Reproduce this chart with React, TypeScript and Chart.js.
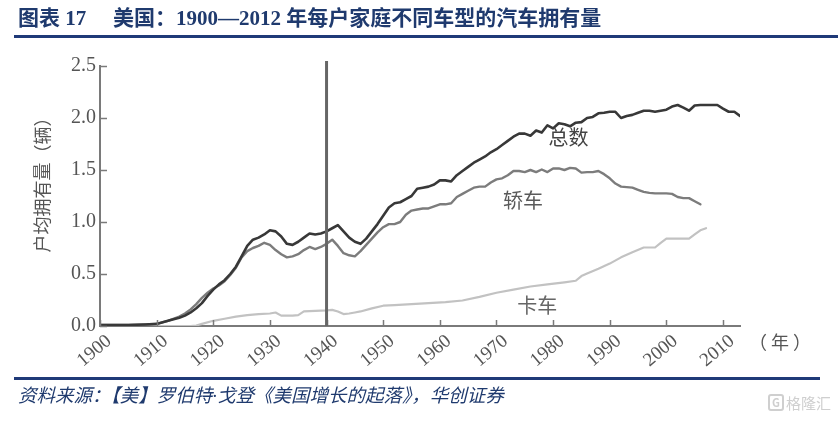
import React, { useEffect, useRef } from "react";
import { Chart, registerables } from "chart.js";

Chart.register(...registerables);

// ---- data ----
const totalYears = [1900, 1905, 1908, 1910, 1912, 1914, 1915, 1916, 1917, 1918, 1919, 1920, 1921, 1922, 1923, 1924, 1925, 1926, 1927, 1928, 1929, 1930, 1931, 1932, 1933, 1934, 1935, 1936, 1937, 1938, 1939, 1940, 1941, 1942, 1943, 1944, 1945, 1946, 1947, 1948, 1949, 1950, 1951, 1952, 1953, 1954, 1955, 1956, 1957, 1958, 1959, 1960, 1961, 1962, 1963, 1964, 1965, 1966, 1967, 1968, 1969, 1970, 1971, 1972, 1973, 1974, 1975, 1976, 1977, 1978, 1979, 1980, 1981, 1982, 1983, 1984, 1985, 1986, 1987, 1988, 1989, 1990, 1991, 1992, 1993, 1994, 1995, 1996, 1997, 1998, 1999, 2000, 2001, 2002, 2003, 2004, 2005, 2006, 2007, 2008, 2009, 2010, 2011, 2012, 2013];
const totalValues = [0.01, 0.01, 0.015, 0.02, 0.05, 0.08, 0.1, 0.13, 0.17, 0.22, 0.29, 0.35, 0.4, 0.44, 0.5, 0.57, 0.67, 0.77, 0.83, 0.85, 0.88, 0.92, 0.91, 0.86, 0.79, 0.78, 0.81, 0.85, 0.89, 0.88, 0.89, 0.91, 0.94, 0.97, 0.91, 0.85, 0.81, 0.79, 0.84, 0.91, 0.98, 1.06, 1.14, 1.18, 1.19, 1.22, 1.25, 1.32, 1.33, 1.34, 1.36, 1.4, 1.4, 1.39, 1.45, 1.49, 1.53, 1.57, 1.6, 1.63, 1.67, 1.7, 1.74, 1.78, 1.82, 1.85, 1.85, 1.83, 1.88, 1.86, 1.93, 1.9, 1.95, 1.94, 1.92, 1.955, 1.96, 2.0, 2.01, 2.045, 2.05, 2.06, 2.06, 2.0, 2.02, 2.03, 2.05, 2.07, 2.07, 2.06, 2.07, 2.08, 2.11, 2.125, 2.1, 2.07, 2.12, 2.125, 2.125, 2.125, 2.125, 2.09, 2.06, 2.06, 2.02];

const sedanYears = [1900, 1905, 1908, 1910, 1912, 1914, 1915, 1916, 1917, 1918, 1919, 1920, 1921, 1922, 1923, 1924, 1925, 1926, 1927, 1928, 1929, 1930, 1931, 1932, 1933, 1934, 1935, 1936, 1937, 1938, 1939, 1940, 1941, 1942, 1943, 1944, 1945, 1946, 1947, 1948, 1949, 1950, 1951, 1952, 1953, 1954, 1955, 1956, 1957, 1958, 1959, 1960, 1961, 1962, 1963, 1964, 1965, 1966, 1967, 1968, 1969, 1970, 1971, 1972, 1973, 1974, 1975, 1976, 1977, 1978, 1979, 1980, 1981, 1982, 1983, 1984, 1985, 1986, 1987, 1988, 1989, 1990, 1991, 1992, 1993, 1994, 1995, 1996, 1997, 1998, 1999, 2000, 2001, 2002, 2003, 2004, 2005, 2006];
const sedanValues = [0.01, 0.01, 0.015, 0.02, 0.05, 0.09, 0.12, 0.16, 0.21, 0.27, 0.32, 0.36, 0.39, 0.43, 0.49, 0.56, 0.66, 0.72, 0.75, 0.77, 0.8, 0.78, 0.73, 0.69, 0.66, 0.67, 0.69, 0.73, 0.76, 0.74, 0.76, 0.79, 0.83, 0.77, 0.7, 0.68, 0.67, 0.72, 0.78, 0.84, 0.9, 0.95, 0.98, 0.98, 1.0, 1.07, 1.11, 1.12, 1.13, 1.13, 1.15, 1.17, 1.17, 1.18, 1.24, 1.27, 1.3, 1.33, 1.34, 1.34, 1.38, 1.41, 1.42, 1.45, 1.49, 1.49, 1.48, 1.5, 1.48, 1.505, 1.48, 1.515, 1.515, 1.5, 1.52, 1.515, 1.475, 1.48, 1.48, 1.49, 1.46, 1.42, 1.37, 1.34, 1.335, 1.33, 1.31, 1.29, 1.28, 1.275, 1.275, 1.275, 1.27, 1.24, 1.23, 1.23, 1.2, 1.17];

const truckYears = [1900, 1916, 1917, 1918, 1920, 1922, 1924, 1926, 1928, 1930, 1931, 1932, 1934, 1935, 1936, 1938, 1940, 1941, 1942, 1943, 1944, 1945, 1946, 1948, 1950, 1952, 1955, 1958, 1961, 1964, 1967, 1970, 1973, 1976, 1979, 1982, 1984, 1985, 1986, 1988, 1990, 1992, 1994, 1996, 1998, 1999, 2000, 2002, 2004, 2005, 2006, 2007];
const truckValues = [0, 0, 0.005, 0.02, 0.05, 0.07, 0.09, 0.105, 0.115, 0.12, 0.13, 0.1, 0.1, 0.105, 0.14, 0.145, 0.15, 0.155, 0.14, 0.115, 0.12, 0.13, 0.14, 0.17, 0.195, 0.2, 0.21, 0.22, 0.23, 0.245, 0.28, 0.32, 0.35, 0.38, 0.4, 0.42, 0.435, 0.48, 0.505, 0.55, 0.6, 0.66, 0.71, 0.755, 0.755, 0.8, 0.84, 0.84, 0.84, 0.88, 0.92, 0.94];

const seriesNames = ["总数", "轿车", "卡车"];
const seriesLabelYears = [1982.7, 1974.7, 1977.2];
const seriesLabelValues = [1.81, 1.21, 0.2];

const xTickYears = [1900, 1910, 1920, 1930, 1940, 1950, 1960, 1970, 1980, 1990, 2000, 2010];
const yTickValues = [0, 0.5, 1.0, 1.5, 2.0, 2.5];
const markerYear = 1940;

const titleLead = "图表 17";
const titleMain = "美国：1900—2012 年每户家庭不同车型的汽车拥有量";
const sourceText = "资料来源：【美】罗伯特·戈登《美国增长的起落》，华创证券";
const yAxisTitle = "户均拥有量（辆）";
const xUnit = "（ 年 ）";

const SERIF = '"Liberation Serif", "Noto Sans CJK SC", serif';
const CJK = '"Noto Sans CJK SC", sans-serif';

function toPoints(xs: number[], ys: number[]) {
  return xs.map((x, i) => ({ x, y: ys[i] }));
}

const overlayPlugin = {
  id: "overlay",
  afterDatasetsDraw(chart: any) {
    const { ctx, chartArea } = chart;
    const x = chart.scales.x;
    const y = chart.scales.y;
    ctx.save();
    // inner tick marks
    ctx.strokeStyle = "#7a7a7a";
    ctx.lineWidth = 1.5;
    xTickYears.forEach((v) => {
      const px = Math.round(x.getPixelForValue(v)) + 0.5;
      ctx.beginPath();
      ctx.moveTo(px, chartArea.bottom);
      ctx.lineTo(px, chartArea.bottom - 6);
      ctx.stroke();
    });
    yTickValues.forEach((v) => {
      const py = Math.round(y.getPixelForValue(v)) + 0.5;
      ctx.beginPath();
      ctx.moveTo(chartArea.left, py);
      ctx.lineTo(chartArea.left + 7, py);
      ctx.stroke();
    });
    // vertical marker line
    const mx = x.getPixelForValue(markerYear);
    ctx.strokeStyle = "#666666";
    ctx.lineWidth = 3;
    ctx.beginPath();
    ctx.moveTo(mx, chartArea.top - 5);
    ctx.lineTo(mx, chartArea.bottom);
    ctx.stroke();
    // series labels
    const labelColors = ["#444444", "#5a5a5a", "#666666"];
    ctx.font = "20px " + CJK;
    ctx.textAlign = "center";
    ctx.textBaseline = "middle";
    seriesNames.forEach((n, i) => {
      ctx.fillStyle = labelColors[i];
      ctx.fillText(n, x.getPixelForValue(seriesLabelYears[i]), y.getPixelForValue(seriesLabelValues[i]));
    });
    // unit of x axis
    ctx.fillStyle = "#555555";
    ctx.font = "18px " + CJK;
    ctx.textAlign = "left";
    ctx.fillText(xUnit, chartArea.right + 9, chartArea.bottom + 16);
    // y axis title (vertical)
    ctx.translate(chartArea.left - 58, y.getPixelForValue(1.4));
    ctx.rotate(-Math.PI / 2);
    ctx.textAlign = "center";
    ctx.fillStyle = "#555555";
    ctx.font = "18px " + CJK;
    ctx.fillText(yAxisTitle, 0, 0);
    ctx.restore();
  },
};

export default function App() {
  const canvasRef = useRef<HTMLCanvasElement | null>(null);

  useEffect(() => {
    const canvas = canvasRef.current;
    if (!canvas) return;
    const chart = new Chart(canvas, {
      type: "line",
      data: {
        datasets: [
          {
            label: seriesNames[0],
            data: toPoints(totalYears, totalValues),
            borderColor: "#383838",
            borderWidth: 2.6,
            pointRadius: 0,
            tension: 0,
            order: 0,
          },
          {
            label: seriesNames[1],
            data: toPoints(sedanYears, sedanValues),
            borderColor: "#7c7c7c",
            borderWidth: 2.4,
            pointRadius: 0,
            tension: 0,
            order: 1,
          },
          {
            label: seriesNames[2],
            data: toPoints(truckYears, truckValues),
            borderColor: "#c2c2c2",
            borderWidth: 2.2,
            pointRadius: 0,
            tension: 0,
            order: 2,
          },
        ],
      },
      options: {
        animation: false,
        responsive: false,
        maintainAspectRatio: false,
        layout: { padding: { top: 66, right: 98, left: 0, bottom: 0 } },
        plugins: {
          legend: { display: false },
          tooltip: { enabled: false },
        },
        elements: { line: { borderCapStyle: "round", borderJoinStyle: "round" } },
        scales: {
          x: {
            type: "linear",
            min: 1900,
            max: 2013,
            afterBuildTicks: (s: any) => {
              s.ticks = xTickYears.map((v) => ({ value: v }));
            },
            afterFit: (s: any) => {
              s.height = 96;
            },
            grid: { display: false, drawTicks: false },
            border: { display: true, color: "#7a7a7a", width: 2 },
            ticks: {
              autoSkip: false,
              minRotation: 40,
              maxRotation: 40,
              padding: 4,
              labelOffset: 9,
              color: "#555555",
              font: { family: SERIF, size: 19 },
              callback: (v: any) => String(v),
            },
          },
          y: {
            type: "linear",
            min: 0,
            max: 2.5,
            afterBuildTicks: (s: any) => {
              s.ticks = yTickValues.map((v) => ({ value: v }));
            },
            afterFit: (s: any) => {
              s.width = 100;
            },
            grid: { display: false, drawTicks: false },
            border: { display: true, color: "#7a7a7a", width: 2 },
            ticks: {
              padding: 4,
              color: "#555555",
              font: { family: SERIF, size: 20 },
              callback: (v: any) => Number(v).toFixed(1),
            },
          },
        },
      },
      plugins: [overlayPlugin],
    });
    return () => chart.destroy();
  }, []);

  return (
    <div
      style={{
        position: "absolute",
        left: 0,
        top: 0,
        width: 838,
        height: 422,
        overflow: "hidden",
        background: "#ffffff",
      }}
    >
      <canvas
        ref={canvasRef}
        width={838}
        height={422}
        style={{ position: "absolute", left: 0, top: 0, width: 838, height: 422 }}
      />
      <div
        style={{
          position: "absolute",
          left: 18,
          top: 5,
          fontFamily: SERIF,
          fontWeight: "bold",
          fontSize: 21,
          lineHeight: "26px",
          color: "#1f3a6e",
          whiteSpace: "pre",
        }}
      >
        {titleLead}
      </div>
      <div
        style={{
          position: "absolute",
          left: 113,
          top: 5,
          fontFamily: SERIF,
          fontWeight: "bold",
          fontSize: 21,
          lineHeight: "26px",
          color: "#1f3a6e",
          whiteSpace: "pre",
        }}
      >
        {titleMain}
      </div>
      <div style={{ position: "absolute", left: 14, right: 0, top: 35, height: 3, background: "#1f3a78" }} />
      <div style={{ position: "absolute", left: 14, width: 806, top: 377, height: 3, background: "#1f3a78" }} />
      <div
        style={{
          position: "absolute",
          left: 18,
          top: 384,
          fontFamily: SERIF,
          fontStyle: "italic",
          fontSize: 18.5,
          lineHeight: "24px",
          color: "#1f3a6e",
          whiteSpace: "pre",
        }}
      >
        {sourceText}
      </div>
      <div
        style={{
          position: "absolute",
          left: 768,
          top: 392,
          display: "flex",
          alignItems: "center",
          gap: 2,
          fontFamily: CJK,
          fontSize: 15,
          color: "#cfcfcf",
        }}
      >
        <span
          style={{
            border: "2px solid #cfcfcf",
            borderRadius: 3,
            fontSize: 11,
            lineHeight: "13px",
            padding: "0 2px",
            fontWeight: "bold",
          }}
        >
          G
        </span>
        <span>格隆汇</span>
      </div>
    </div>
  );
}
